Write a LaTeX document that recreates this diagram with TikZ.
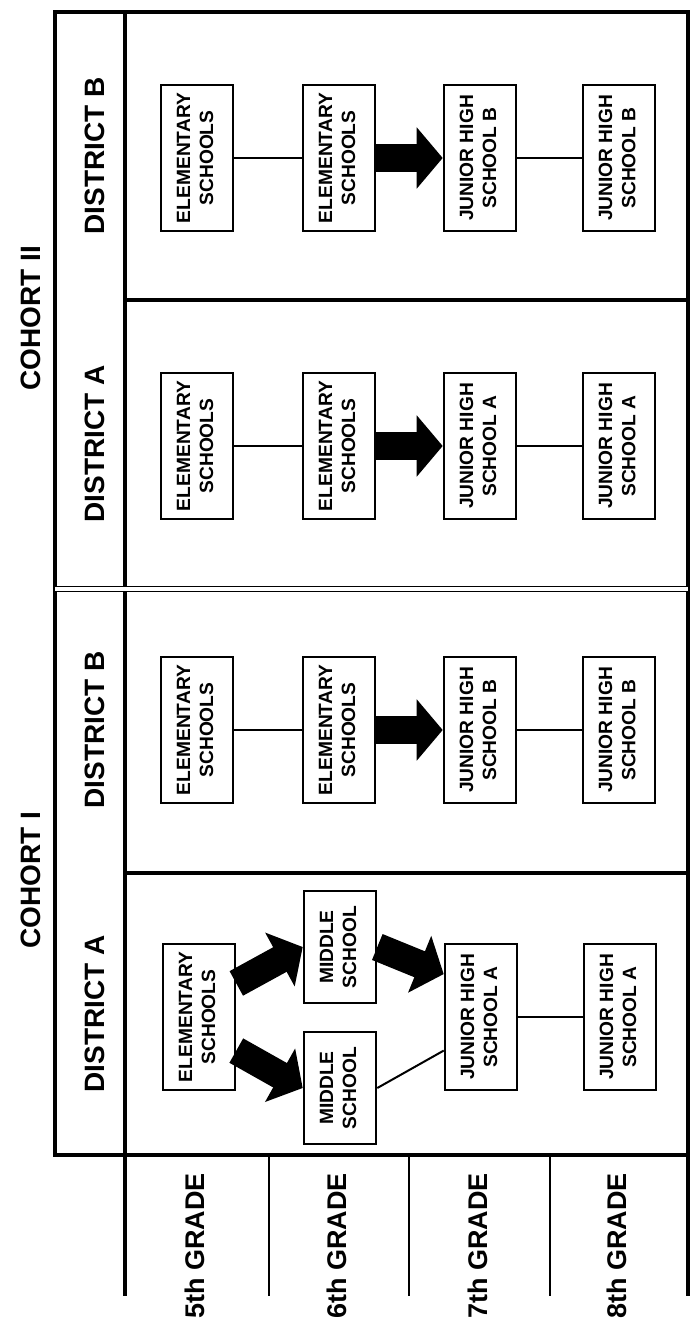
\documentclass[tikz,border=0pt]{standalone}
\usepackage{fontspec}
\setmainfont{Liberation Sans}
\usetikzlibrary{arrows.meta}

\newcommand{\vlabel}[1]{\rotatebox{90}{\begin{tabular}{@{}c@{}}#1\end{tabular}}}

\begin{document}
\begin{tikzpicture}[x=0.5pt, y=-0.5pt,
  school/.style={draw, line width=1.3pt, minimum width=36pt, minimum height=73pt, inner sep=0pt, font=\bfseries\fontsize{9.6}{11.6}\selectfont},
  middle/.style={school, minimum height=56pt},
  link/.style={line width=1pt},
  move/.style={line width=14pt, -{Triangle[width=30pt,length=13pt]}},
  frame/.style={line width=1.6pt},
  head/.style={rotate=90, font=\bfseries\fontsize{14}{16}\selectfont},
  grade/.style={rotate=90, font=\bfseries\fontsize{13.5}{16}\selectfont}]
\useasboundingbox (0,0) rectangle (692,1326);
% frame and table lines
\draw[frame] (55,12) rectangle (688,1155);
\draw[frame] (125,12) -- (125,1296);
\draw[frame] (688,1155) -- (688,1296);
\draw[frame] (125,300) -- (688,300);
\draw[frame] (125,873) -- (688,873);
\draw[line width=0.9pt, double, double distance=1.6pt] (55,589) -- (688,589);
\foreach \x in {269,409,550}
  \draw[line width=1.1pt] (\x,1155) -- (\x,1296);
% cohort and district labels
\node[head] (cohortII) at (31,318) {COHORT II};
\node[head] (cohortI) at (31,880) {COHORT I};
\node[head] (distIIB) at (95,156) {DISTRICT B};
\node[head] (distIIA) at (95,444) {DISTRICT A};
\node[head] (distIB) at (95,730) {DISTRICT B};
\node[head] (distIA) at (95,1014) {DISTRICT A};
% grades
\node[grade] (g5) at (195,1246) {5th GRADE};
\node[grade] (g6) at (337,1246) {6th GRADE};
\node[grade] (g7) at (478,1246) {7th GRADE};
\node[grade] (g8) at (617,1246) {8th GRADE};
% districts that stay in elementary school through 6th grade
\foreach \y/\d/\n in {158/B/a, 446/A/b, 730/B/c} {
  \node[school] (e5\n) at (197,\y) {\vlabel{ELEMENTARY\\SCHOOLS}};
  \node[school] (e6\n) at (339,\y) {\vlabel{ELEMENTARY\\SCHOOLS}};
  \node[school] (j7\n) at (480,\y) {\vlabel{JUNIOR HIGH\\SCHOOL \d}};
  \node[school] (j8\n) at (619,\y) {\vlabel{JUNIOR HIGH\\SCHOOL \d}};
  \draw[link] (e5\n.east) -- (e6\n.west);
  \draw[move] (e6\n.east) -- (j7\n.west);
  \draw[link] (j7\n.east) -- (j8\n.west);
}
% cohort I, district A
\node[school] (e5d) at (199,1017) {\vlabel{ELEMENTARY\\SCHOOLS}};
\node[middle] (m6up) at (340,947) {\vlabel{MIDDLE\\SCHOOL}};
\node[middle] (m6low) at (340,1088) {\vlabel{MIDDLE\\SCHOOL}};
\node[school] (j7d) at (481,1017) {\vlabel{JUNIOR HIGH\\SCHOOL A}};
\node[school] (j8d) at (620,1017) {\vlabel{JUNIOR HIGH\\SCHOOL A}};
\draw[move] (e5d.42) -- (m6up.west);
\draw[move] (e5d.-42) -- (m6low.west);
\draw[move] (m6up.east) -- (j7d.131);
\draw[link] (m6low.east) -- (j7d.222);
\draw[link] (j7d.east) -- (j8d.west);
\end{tikzpicture}
\end{document}
